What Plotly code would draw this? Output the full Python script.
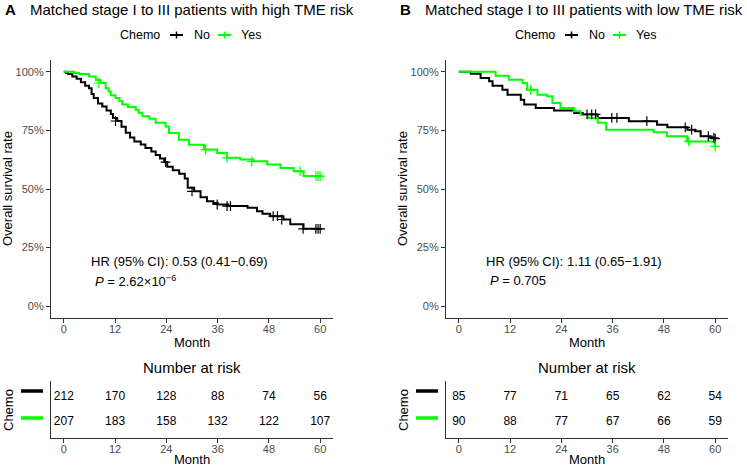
import plotly.graph_objects as go

W, H = 747, 467
def px(x): return x / W
def py(y): return 1 - y / H

FONT = "Liberation Sans, Arial, sans-serif"
BLACK = "#000000"
GREEN = "#00FF00"
AXC = "#333333"
TXC = "#4d4d4d"

month_ticks = [0, 12, 24, 36, 48, 60]
surv_ticks = [0, 0.25, 0.5, 0.75, 1.0]
surv_labels = ["0%", "25%", "50%", "75%", "100%"]

# ---------------- Panel A: high TME risk ----------------
a_no_t = [0, 0.5, 1, 2, 3, 4, 5, 5.9, 6.5, 7, 8, 9, 10, 11, 11.5, 12.5, 13.5, 14.5, 15.5, 16.5, 18, 19.1,
          20.5, 21.5, 22.5, 23.5, 24.2, 25.5, 27, 28.3, 29, 30.5, 32, 33.5, 35, 36, 38.5, 43, 45.2, 46.5,
          48.3, 51.4, 53, 56.1, 60]
a_no_s = [1.0, 0.995, 0.99, 0.98, 0.97, 0.955, 0.94, 0.93, 0.905, 0.888, 0.865, 0.852, 0.835, 0.82, 0.803,
          0.79, 0.765, 0.74, 0.72, 0.703, 0.69, 0.675, 0.66, 0.645, 0.63, 0.615, 0.595, 0.58, 0.565, 0.545,
          0.505, 0.49, 0.465, 0.448, 0.44, 0.434, 0.427, 0.42, 0.405, 0.395, 0.384, 0.37, 0.35, 0.33, 0.33]
a_no_cens_t = [12.1, 23.8, 30, 35.9, 38.2, 39, 49, 50, 51, 56, 59, 59.5, 60]
a_no_cens_s = [0.79, 0.615, 0.49, 0.434, 0.427, 0.427, 0.384, 0.384, 0.37, 0.33, 0.33, 0.33, 0.33]

a_yes_t = [0, 2.5, 3.6, 5.9, 7.5, 8.6, 9.8, 10.5, 11, 12.1, 13, 13.7, 15, 16.8, 17.5, 18.4, 20, 21.5, 23.8,
           24.6, 26.9, 29.3, 32.8, 35.9, 38.2, 41.3, 44.4, 47.6, 50.7, 53.8, 56.1, 60]
a_yes_s = [1.0, 0.995, 0.99, 0.98, 0.965, 0.952, 0.93, 0.916, 0.9, 0.888, 0.875, 0.86, 0.85, 0.838, 0.825,
           0.81, 0.8, 0.782, 0.767, 0.739, 0.71, 0.689, 0.668, 0.654, 0.633, 0.626, 0.618, 0.604, 0.59,
           0.576, 0.555, 0.555]
a_yes_cens_t = [8.2, 33.2, 38.2, 44, 55.3, 59, 59.5, 60]
a_yes_cens_s = [0.952, 0.668, 0.633, 0.618, 0.576, 0.555, 0.555, 0.555]

a_risk_no = [212, 170, 128, 88, 74, 56]
a_risk_yes = [207, 183, 158, 132, 122, 107]
a_title = "Matched stage I to III patients with high TME risk"
a_hr = "HR (95% CI): 0.53 (0.41\u22120.69)"
a_p = "<i>P</i> = 2.62\u00d710<sup>\u22126</sup>"

# ---------------- Panel B: low TME risk ----------------
b_no_t = [0, 2.8, 5.1, 7.1, 7.9, 10.2, 11.4, 14.5, 15.3, 18, 22.3, 27, 29, 32.5, 39.8, 46.4, 48.8, 53.5,
          55.3, 56.6, 58.9, 60]
b_no_s = [1.0, 0.991, 0.973, 0.959, 0.94, 0.923, 0.902, 0.881, 0.86, 0.845, 0.835, 0.824, 0.818, 0.803,
          0.789, 0.774, 0.763, 0.753, 0.746, 0.725, 0.718, 0.715]
b_no_cens_t = [30, 31.1, 32, 35.8, 37, 44, 53, 54.5, 58.4, 59.7, 60]
b_no_cens_s = [0.818, 0.818, 0.818, 0.803, 0.803, 0.789, 0.763, 0.753, 0.725, 0.718, 0.715]

b_yes_t = [0, 8.6, 11.7, 14.9, 16, 18.4, 20.7, 21.9, 23.8, 26.9, 28.5, 30.2, 32.5, 34.5, 45.6, 48.7, 53.4,
           59.9, 60]
b_yes_s = [1.0, 0.983, 0.966, 0.952, 0.923, 0.902, 0.895, 0.867, 0.845, 0.831, 0.817, 0.803, 0.782, 0.753,
           0.742, 0.725, 0.703, 0.682, 0.682]
b_yes_cens_t = [16.8, 53.8, 60]
b_yes_cens_s = [0.923, 0.703, 0.682]

b_risk_no = [85, 77, 71, 65, 62, 54]
b_risk_yes = [90, 88, 77, 67, 66, 59]
b_title = "Matched stage I to III patients with low TME risk"
b_hr = "HR (95% CI): 1.11 (0.65\u22121.91)"
b_p = "<i>P</i> = 0.705"

fig = go.Figure()
annotations = []
shapes = []

def axis_common():
    return dict(showline=True, linecolor=AXC, linewidth=1.2, ticks="outside", ticklen=4,
                tickcolor=AXC, tickwidth=1.1, showgrid=False, zeroline=False,
                tickfont=dict(family=FONT, size=11, color=TXC))

def add_panel(idx, off, letter, title, no_t, no_s, yes_t, yes_s, nc_t, nc_s, yc_t, yc_s,
              risk_no, risk_yes, hr, ptxt):
    xm, ym = f"x{2*idx-1}", f"y{2*idx-1}"
    xr, yr = f"x{2*idx}", f"y{2*idx}"
    # curves
    fig.add_trace(go.Scatter(x=no_t, y=no_s, mode="lines", line=dict(color=BLACK, width=2, shape="hv"),
                             xaxis=xm, yaxis=ym, showlegend=False, hoverinfo="skip"))
    fig.add_trace(go.Scatter(x=yes_t, y=yes_s, mode="lines", line=dict(color=GREEN, width=2, shape="hv"),
                             xaxis=xm, yaxis=ym, showlegend=False, hoverinfo="skip"))
    fig.add_trace(go.Scatter(x=nc_t, y=nc_s, mode="markers",
                             marker=dict(symbol="cross-thin", size=7, line=dict(color=BLACK, width=1.2)),
                             xaxis=xm, yaxis=ym, showlegend=False, hoverinfo="skip"))
    fig.add_trace(go.Scatter(x=yc_t, y=yc_s, mode="markers",
                             marker=dict(symbol="cross-thin", size=7, line=dict(color=GREEN, width=1.2)),
                             xaxis=xm, yaxis=ym, showlegend=False, hoverinfo="skip"))
    # risk table
    fig.add_trace(go.Scatter(x=month_ticks, y=[2] * len(month_ticks), mode="text",
                             text=[str(v) for v in risk_no],
                             textfont=dict(family=FONT, size=12, color="#000000"),
                             xaxis=xr, yaxis=yr, showlegend=False, hoverinfo="skip"))
    fig.add_trace(go.Scatter(x=month_ticks, y=[1] * len(month_ticks), mode="text",
                             text=[str(v) for v in risk_yes],
                             textfont=dict(family=FONT, size=12, color="#000000"),
                             xaxis=xr, yaxis=yr, showlegend=False, hoverinfo="skip"))

    x0, x1 = px(51 + off), px(333 + off)
    ax = axis_common()
    fig.layout[f"xaxis{2*idx-1}"] = dict(ax, domain=[x0, x1], range=[-3, 63], tickvals=month_ticks,
                                         anchor=ym, ticklabelstandoff=-3)
    fig.layout[f"yaxis{2*idx-1}"] = dict(ax, domain=[py(318), py(60)], range=[-0.05, 1.05],
                                         tickvals=surv_ticks, ticktext=surv_labels, anchor=xm)
    fig.layout[f"xaxis{2*idx}"] = dict(ax, domain=[x0, x1], range=[-3, 63], tickvals=month_ticks,
                                       anchor=yr, ticklabelstandoff=-3)
    fig.layout[f"yaxis{2*idx}"] = dict(showline=True, linecolor=AXC, linewidth=1.2, showgrid=False,
                                       zeroline=False, showticklabels=False, ticks="",
                                       domain=[py(438), py(381)], range=[0.4, 2.6], anchor=xr)

    cx = (51 + 333) / 2 + off
    # titles
    annotations.append(dict(text=f"<b>{letter}</b>", x=px(3 + off), y=py(9), xref="paper", yref="paper",
                            xanchor="left", yanchor="middle", showarrow=False,
                            font=dict(family=FONT, size=15, color="#000")))
    annotations.append(dict(text=title, x=px(28 + off), y=py(9), xref="paper", yref="paper",
                            xanchor="left", yanchor="middle", showarrow=False,
                            font=dict(family=FONT, size=15, color="#000")))
    # legend
    annotations.append(dict(text="Chemo", x=px(118 + off), y=py(35), xref="paper", yref="paper",
                            xanchor="left", yanchor="middle", showarrow=False,
                            font=dict(family=FONT, size=12.5, color="#000")))
    annotations.append(dict(text="No", x=px(192 + off), y=py(35), xref="paper", yref="paper",
                            xanchor="left", yanchor="middle", showarrow=False,
                            font=dict(family=FONT, size=12.5, color="#000")))
    annotations.append(dict(text="Yes", x=px(239 + off), y=py(35), xref="paper", yref="paper",
                            xanchor="left", yanchor="middle", showarrow=False,
                            font=dict(family=FONT, size=12.5, color="#000")))
    for (k0, col) in [(170, BLACK), (218, GREEN)]:
        shapes.append(dict(type="line", xref="paper", yref="paper", x0=px(k0 + off), x1=px(k0 + 13 + off),
                           y0=py(35), y1=py(35), line=dict(color=col, width=2)))
        shapes.append(dict(type="line", xref="paper", yref="paper", x0=px(k0 + 6.5 + off),
                           x1=px(k0 + 6.5 + off), y0=py(31.5), y1=py(38.5), line=dict(color=col, width=1.5)))
    # axis titles
    annotations.append(dict(text="Overall survival rate", x=px(8 + off), y=py(189), xref="paper",
                            yref="paper", xanchor="center", yanchor="middle", textangle=-90,
                            showarrow=False, font=dict(family=FONT, size=13, color="#000")))
    annotations.append(dict(text="Month", x=px(cx), y=py(342), xref="paper", yref="paper",
                            xanchor="center", yanchor="middle", showarrow=False,
                            font=dict(family=FONT, size=13, color="#000")))
    annotations.append(dict(text="Number at risk", x=px(cx), y=py(367), xref="paper", yref="paper",
                            xanchor="center", yanchor="middle", showarrow=False,
                            font=dict(family=FONT, size=15, color="#000")))
    annotations.append(dict(text="Month", x=px(cx), y=py(459), xref="paper", yref="paper",
                            xanchor="center", yanchor="middle", showarrow=False,
                            font=dict(family=FONT, size=13, color="#000")))
    annotations.append(dict(text="Chemo", x=px(8 + off), y=py(410), xref="paper", yref="paper",
                            xanchor="center", yanchor="middle", textangle=-90, showarrow=False,
                            font=dict(family=FONT, size=13, color="#000")))
    for (yy, col) in [(391, BLACK), (418, GREEN)]:
        shapes.append(dict(type="line", xref="paper", yref="paper", x0=px(21 + off), x1=px(43 + off),
                           y0=py(yy), y1=py(yy), line=dict(color=col, width=3.5)))
    # HR / P text
    annotations.append(dict(text=hr, x=6, y=0.19, xref=xm, yref=ym, xanchor="left", yanchor="middle",
                            showarrow=False, font=dict(family=FONT, size=13, color="#000")))
    annotations.append(dict(text=ptxt, x=6.8, y=0.108, xref=xm, yref=ym, xanchor="left",
                            yanchor="middle", showarrow=False, font=dict(family=FONT, size=13, color="#000")))

add_panel(1, 0, "A", a_title, a_no_t, a_no_s, a_yes_t, a_yes_s, a_no_cens_t, a_no_cens_s,
          a_yes_cens_t, a_yes_cens_s, a_risk_no, a_risk_yes, a_hr, a_p)
add_panel(2, 395, "B", b_title, b_no_t, b_no_s, b_yes_t, b_yes_s, b_no_cens_t, b_no_cens_s,
          b_yes_cens_t, b_yes_cens_s, b_risk_no, b_risk_yes, b_hr, b_p)

fig.update_layout(width=W, height=H, margin=dict(l=0, r=0, t=0, b=0), plot_bgcolor="white",
                  paper_bgcolor="white", annotations=annotations, shapes=shapes,
                  font=dict(family=FONT))
fig.write_html("out.html", config={"displayModeBar": False},
               post_script="document.body.style.margin='0px';document.body.style.overflow='hidden';")
